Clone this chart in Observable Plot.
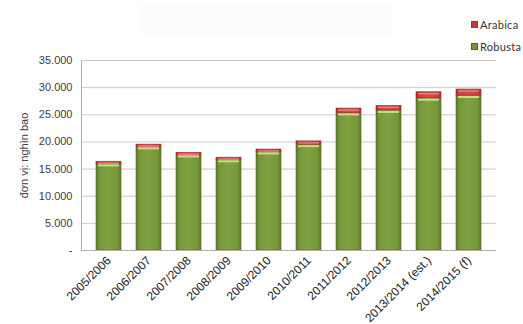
<!DOCTYPE html>
<html><head><meta charset="utf-8">
<script src="https://cdn.jsdelivr.net/npm/d3@7"></script>
<script src="https://cdn.jsdelivr.net/npm/@observablehq/plot@0.6"></script>
<style>
body{margin:0;background:#fff;}
#wrap{position:relative;width:523px;height:324px;font-family:"Liberation Sans",Arial,sans-serif;}
#titlebox{position:absolute;left:140px;top:4px;width:252px;height:30px;background:#fcfcfc;}
.lg{position:absolute;left:471px;font-family:Lato,sans-serif;font-size:11px;color:#333;display:flex;align-items:center;gap:2px;letter-spacing:0.3px;}
.sw{width:7px;height:7px;display:inline-block;}
</style></head><body>
<div id="wrap"><div id="titlebox"></div></div>
<script>
const seasons = ["2005/2006","2006/2007","2007/2008","2008/2009","2009/2010","2010/2011","2011/2012","2012/2013","2013/2014 (est.)","2014/2015 (f)"];
const robusta = [15950,19100,17600,16700,18150,19500,25350,25800,28050,28550];
const arabica = [400,400,400,400,450,600,800,850,1100,1100];
const seriesNames = ["Robusta","Arabica"];
const yTicks = [0,5000,10000,15000,20000,25000,30000,35000];
const yLabel = "đơn vị: nghìn bao";

const fills = {Robusta:"url(#gGreen)", Arabica:"url(#gRed)"};
const rows = [];
seasons.forEach((s,i)=>{
  rows.push({season:s, series:"Robusta", value:robusta[i]});
  rows.push({season:s, series:"Arabica", value:arabica[i]});
});
const tops = seasons.map((s,i)=>({season:s, robusta:robusta[i], total:robusta[i]+arabica[i]}));
const fmt = d => d===0 ? "-" : d3.format(",")(d).replace(/,/g,".");

const chart = Plot.plot({
  width:523, height:324,
  marginLeft:81, marginRight:27, marginTop:60, marginBottom:74,
  style:{fontFamily:"'Liberation Sans',Arial,sans-serif", fontSize:"11px", color:"#404040", background:"transparent"},
  x:{domain:seasons, padding:0.37},
  y:{domain:[0,35000]},
  color:{type:"identity"},
  marks:[
    Plot.gridY(yTicks,{stroke:"#c9c9c9", strokeOpacity:1}),
    Plot.frame({anchor:"left", stroke:"#b0b0b0"}),
    Plot.axisY(yTicks,{tickFormat:fmt, tickSize:0, tickPadding:9, fontSize:11, fill:"#404040",
      label:yLabel, labelAnchor:"center", labelArrow:"none", labelOffset:61}),
    Plot.axisX({tickSize:0, tickRotate:-45, tickPadding:8, fontSize:12, fill:"#222", label:null}),
    Plot.barY(rows, Plot.stackY({x:"season", y:"value", z:"series", order:seriesNames,
      fill:d=>fills[d.series], stroke:d=>d.series==="Robusta"?"#56702a":"#9e2a2a", strokeWidth:0.6})),
    Plot.tickY(tops,{x:"season", y:"robusta", stroke:"#c5de86", strokeWidth:2, dy:1.5, insetLeft:2, insetRight:2}),
    Plot.tickY(tops,{x:"season", y:"total", stroke:"#f07a7a", strokeWidth:1.5, dy:1.5, insetLeft:2, insetRight:2}),
    Plot.ruleY([0],{stroke:"#b0b0b0"})
  ]
});

const svg = d3.select(chart);
const defs = svg.insert("defs",":first-child");
function grad(id, edge, mid, center){
  const g = defs.append("linearGradient").attr("id",id).attr("x1","0").attr("x2","1").attr("y1","0").attr("y2","0");
  [[0,edge],[0.15,mid],[0.5,center],[0.85,mid],[1,edge]].forEach(([o,c])=>g.append("stop").attr("offset",o).attr("stop-color",c));
}
grad("gGreen","#5b752b","#77983a","#7fa242");
grad("gRed","#a82c2c","#cf3c3c","#dc4a4a");
chart.style.position="absolute"; chart.style.left="0"; chart.style.top="0";
const wrap = document.getElementById("wrap");
wrap.appendChild(chart);

const legendItems = [["Arabica","#c83a3a",18],["Robusta","#77983a",40]];
legendItems.forEach(([name,col,top])=>{
  const d = document.createElement("div");
  d.className="lg"; d.style.top=top+"px";
  d.innerHTML = `<span class="sw" style="background:${col};border:0.5px solid #555;box-sizing:border-box"></span><span>${name}</span>`;
  wrap.appendChild(d);
});
</script></body></html>
